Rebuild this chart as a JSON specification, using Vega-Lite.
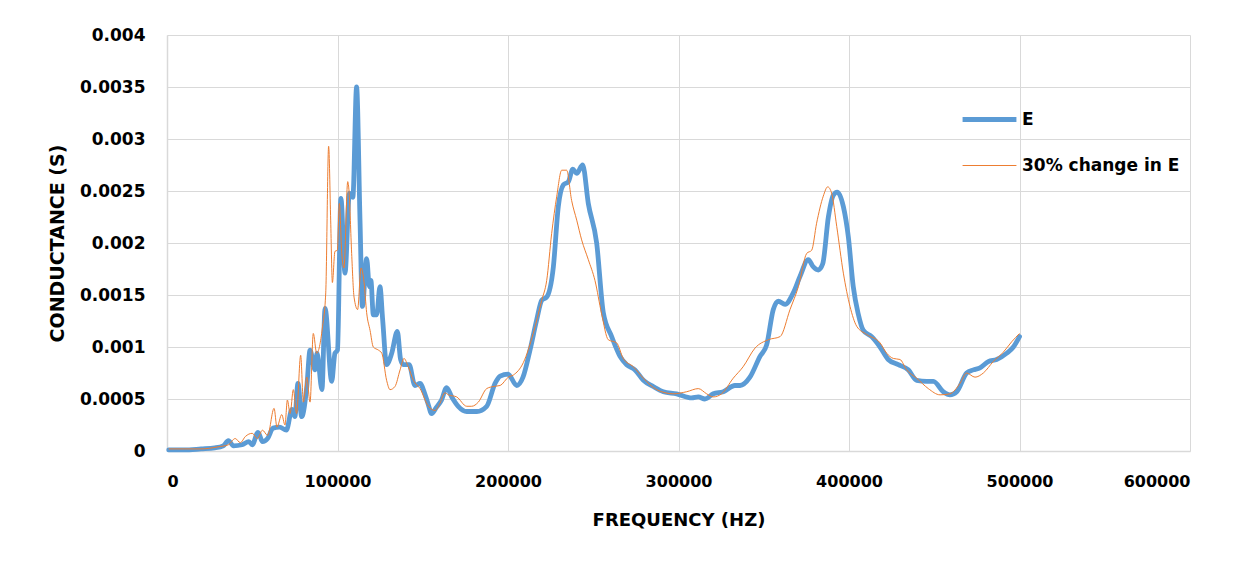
{
  "$schema": "https://vega.github.io/schema/vega-lite/v6.json",
  "width": 1023,
  "height": 416,
  "autosize": "none",
  "padding": {"left": 167, "top": 35, "right": 63, "bottom": 110},
  "background": "white",
  "datasets": {
    "E": [[1000,0.00001],[10000,0.00001],[20000,0.00002],[28000,0.00003],[33000,0.00005],[36000,0.0001],[39000,0.00005],[44000,0.00006],[48000,0.00009],[50000,0.00006],[53400,0.00018],[56000,0.00009],[59000,0.00012],[62200,0.00022],[66000,0.00023],[70000,0.0002],[73300,0.0004],[75000,0.00033],[76800,0.00065],[79000,0.00033],[82000,0.00062],[83900,0.00097],[86800,0.00078],[88000,0.00094],[90900,0.00059],[92700,0.00137],[96600,0.00067],[98500,0.00094],[100000,0.00097],[102000,0.00243],[104400,0.00171],[107000,0.00248],[109000,0.00244],[111200,0.0035],[113200,0.00222],[114600,0.00139],[117100,0.00185],[118700,0.00158],[119600,0.00164],[121000,0.00131],[123000,0.00131],[124900,0.00158],[126500,0.00126],[128800,0.00083],[131800,0.00094],[135100,0.00115],[137000,0.00088],[138600,0.00083],[142000,0.00083],[145400,0.00063],[148400,0.00065],[151000,0.00056],[153000,0.00046],[155200,0.00036],[158000,0.00042],[161000,0.00049],[164000,0.00061],[167000,0.00052],[170800,0.00043],[175800,0.00038],[181700,0.00038],[187500,0.00043],[192400,0.00065],[195400,0.00072],[200000,0.00074],[205100,0.00063],[208800,0.00071],[212900,0.00097],[216800,0.00126],[219800,0.00145],[222700,0.00148],[226600,0.00177],[229500,0.00235],[232500,0.00256],[235400,0.00259],[238000,0.00271],[240300,0.00267],[243800,0.00275],[247100,0.00238],[252000,0.002],[255900,0.00133],[260800,0.0011],[265700,0.00091],[269600,0.00083],[274500,0.00078],[279400,0.00068],[285200,0.00062],[291100,0.00057],[298900,0.00055],[307700,0.00051],[311600,0.00052],[315500,0.0005],[320400,0.00055],[326300,0.00057],[333100,0.00063],[336100,0.00063],[341900,0.00071],[347800,0.00091],[351700,0.00102],[355600,0.00136],[358500,0.00144],[362500,0.00141],[367300,0.00152],[371300,0.00168],[376100,0.00184],[379100,0.00177],[382000,0.00174],[384600,0.0018],[387900,0.00225],[390800,0.00246],[393100,0.00249],[396700,0.00235],[399600,0.00206],[402500,0.00158],[405400,0.00132],[408400,0.00116],[413300,0.0011],[418200,0.001],[423000,0.00088],[428900,0.00083],[434800,0.00078],[439700,0.00068],[445600,0.00067],[449500,0.00067],[455300,0.00057],[459200,0.00054],[463200,0.00057],[469000,0.00075],[472900,0.00078],[476800,0.0008],[481700,0.00086],[486600,0.00088],[492500,0.00094],[496400,0.001],[500000,0.0011]],
    "E30": [[1000,0.00002],[10000,0.00002],[20000,0.00002],[30000,0.00004],[36000,0.00006],[40000,0.00012],[43000,0.00008],[46000,0.00014],[50000,0.00017],[53000,0.00012],[56000,0.0002],[59000,0.00015],[62800,0.00041],[64500,0.00023],[67300,0.00035],[69200,0.00025],[70600,0.00049],[72200,0.00036],[74100,0.00059],[76000,0.00036],[78400,0.00092],[80000,0.00047],[82000,0.00071],[83900,0.00047],[85800,0.00113],[87800,0.00094],[91100,0.00118],[93100,0.00152],[94800,0.00293],[96000,0.00222],[97000,0.00162],[98500,0.00192],[99900,0.00193],[101100,0.00238],[102500,0.0019],[103800,0.00176],[106000,0.00259],[106800,0.00249],[108300,0.0019],[109700,0.00148],[111800,0.00136],[113800,0.00176],[115600,0.00162],[117100,0.00133],[119100,0.00116],[121000,0.001],[124000,0.00097],[126000,0.00094],[128800,0.00068],[130800,0.00059],[133700,0.00062],[136700,0.00078],[139000,0.00089],[141500,0.00081],[144500,0.00068],[148400,0.0006],[153300,0.00043],[157200,0.00039],[160100,0.00046],[163000,0.00056],[165000,0.00054],[169900,0.00052],[175800,0.00043],[178700,0.00043],[182600,0.00047],[187500,0.0006],[191400,0.00062],[195400,0.00063],[200200,0.00071],[203100,0.00073],[209000,0.00085],[214800,0.00113],[219800,0.00145],[222700,0.00164],[225600,0.00209],[228600,0.00245],[231500,0.0027],[234400,0.0027],[237300,0.00241],[240300,0.00222],[243200,0.00203],[247100,0.00184],[251000,0.00164],[254900,0.00132],[258800,0.00107],[263700,0.00104],[267600,0.00089],[273500,0.00081],[279400,0.0007],[287200,0.00059],[297000,0.00055],[304800,0.00057],[311600,0.0006],[316500,0.00055],[320400,0.00052],[325300,0.00055],[332100,0.0007],[337900,0.00081],[344900,0.00099],[352700,0.00107],[359600,0.0011],[365400,0.00136],[370300,0.00158],[375200,0.0019],[378100,0.00193],[381000,0.00219],[384900,0.00245],[387500,0.00254],[389800,0.00248],[392800,0.00216],[396700,0.00171],[400600,0.00139],[404500,0.0012],[410400,0.00112],[418200,0.00104],[422100,0.00094],[426000,0.00089],[429900,0.00088],[433800,0.00078],[439700,0.0007],[446500,0.0006],[453400,0.00054],[459200,0.00055],[465100,0.00065],[469000,0.00075],[473900,0.00071],[478800,0.00075],[484600,0.00086],[490500,0.00095],[495400,0.00105],[500000,0.00113]]
  },
  "layer": [
    {
      "data": {"name": "E"},
      "transform": [
        {"calculate": "datum[0]", "as": "f"},
        {"calculate": "datum[1]", "as": "v"},
        {"calculate": "'E'", "as": "series"}
      ],
      "mark": {"type": "line", "interpolate": "monotone", "strokeCap": "round", "strokeJoin": "round"},
      "encoding": {
        "x": {"field": "f", "type": "quantitative"},
        "y": {"field": "v", "type": "quantitative"},
        "color": {"field": "series", "type": "nominal"},
        "strokeWidth": {"field": "series", "type": "nominal"}
      }
    },
    {
      "data": {"name": "E30"},
      "transform": [
        {"calculate": "datum[0]", "as": "f"},
        {"calculate": "datum[1]", "as": "v"},
        {"calculate": "'30% change in E'", "as": "series"}
      ],
      "mark": {"type": "line", "interpolate": "monotone", "strokeJoin": "round"},
      "encoding": {
        "x": {"field": "f", "type": "quantitative"},
        "y": {"field": "v", "type": "quantitative"},
        "color": {"field": "series", "type": "nominal"},
        "strokeWidth": {"field": "series", "type": "nominal"}
      }
    }
  ],
  "resolve": {"scale": {"color": "shared", "strokeWidth": "shared"}},
  "encoding": {
    "x": {
      "field": "f", "type": "quantitative",
      "scale": {"domain": [0, 600000], "nice": false, "zero": true},
      "axis": {"title": "FREQUENCY (HZ)", "values": [0,100000,200000,300000,400000,500000,600000], "format": "d", "labelPadding": 22, "titlePadding": 22, "labelFontSize": 16, "titleFontSize": 18}
    },
    "y": {
      "field": "v", "type": "quantitative",
      "scale": {"domain": [0, 0.004], "nice": false},
      "axis": {"title": "CONDUCTANCE (S)", "values": [0,0.0005,0.001,0.0015,0.002,0.0025,0.003,0.0035,0.004], "labelExpr": "'' + datum.value", "labelPadding": 22, "titlePadding": 12, "labelFontSize": 17, "titleFontSize": 19}
    },
    "color": {
      "field": "series", "type": "nominal",
      "scale": {"domain": ["E", "30% change in E"], "range": ["#5B9BD5", "#ED7D31"]},
      "legend": {"title": null, "orient": "none", "legendX": 793, "legendY": 55, "symbolType": "stroke", "symbolSize": 2900, "rowPadding": 8, "labelOffset": 3}
    },
    "strokeWidth": {
      "field": "series", "type": "nominal",
      "scale": {"domain": ["E", "30% change in E"], "range": [4.8, 1]},
      "legend": {"title": null, "orient": "none", "legendX": 793, "legendY": 55, "symbolType": "stroke", "symbolSize": 2900, "rowPadding": 8, "labelOffset": 3}
    }
  },
  "config": {
    "font": "DejaVu Sans",
    "view": {"stroke": null},
    "axis": {
      "grid": true, "gridColor": "#D9D9D9", "gridWidth": 1,
      "domainColor": "#D9D9D9", "domainWidth": 1.5,
      "ticks": false,
      "labelFont": "DejaVu Sans", "labelFontWeight": "bold", "labelFontSize": 16, "labelColor": "#000000",
      "titleFont": "DejaVu Sans", "titleFontWeight": "bold", "titleFontSize": 17, "titleColor": "#000000"
    },
    "legend": {
      "rowPadding": 8,
      "labelFont": "DejaVu Sans", "labelFontWeight": "bold", "labelFontSize": 17, "labelColor": "#000000", "labelLimit": 300
    }
  }
}
